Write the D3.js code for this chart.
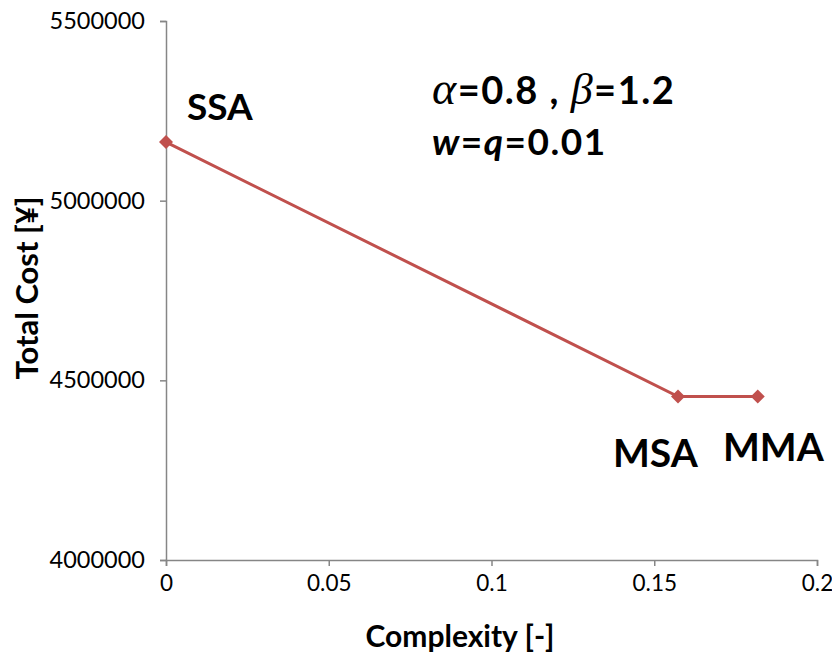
<!DOCTYPE html>
<html><head><meta charset="utf-8">
<script src="https://cdn.jsdelivr.net/npm/d3@7"></script>
<style>body{margin:0;background:#fff}</style>
</head><body>
<svg id="c" width="832" height="661"></svg>
<script>
const names = ["SSA", "MSA", "MMA"];
const complexity = [0, 0.1573, 0.1818];
const totalCost = [5163000, 4455000, 4455000];
const xTicks = [0, 0.05, 0.1, 0.15, 0.2];
const yTicks = [4000000, 4500000, 5000000, 5500000];

const svg = d3.select("#c");
const font = "Lato, 'Open Sans', sans-serif";
const x = d3.scaleLinear().domain([0, 0.2]).range([166, 817]);
const y = d3.scaleLinear().domain([4000000, 5500000]).range([560, 21]);
const axisColor = "#868686";

const xa = svg.append("g").attr("transform", "translate(0,560)")
  .call(d3.axisBottom(x).tickValues(xTicks).tickFormat(d => String(d)).tickSize(6).tickPadding(9));
const ya = svg.append("g").attr("transform", "translate(166,0)")
  .call(d3.axisLeft(y).tickValues(yTicks).tickFormat(d => String(d)).tickSize(6).tickPadding(15));
[xa, ya].forEach(a => {
  a.selectAll("path,line").attr("stroke", axisColor).attr("stroke-width", 1.5);
  a.selectAll("text").attr("font-family", font).attr("fill", "#000");
});
xa.selectAll("text").attr("font-size", 22.5);
ya.selectAll("text").attr("font-size", 23.5);

const line = d3.line().x((d, i) => x(complexity[i])).y((d, i) => y(totalCost[i]));
svg.append("path").datum(totalCost).attr("d", line)
  .attr("fill", "none").attr("stroke", "#C0504D").attr("stroke-width", 3);
svg.selectAll(".m").data(totalCost).enter().append("path")
  .attr("d", d3.symbol().type(d3.symbolDiamond2).size(125))
  .attr("transform", (d, i) => `translate(${x(complexity[i])},${y(d)})`)
  .attr("fill", "#C0504D");

// point labels
const labelPos = [[187, 120, "start", 37], [613, 467, "start", 39], [723, 461, "start", 39]];
names.forEach((n, i) => {
  svg.append("text").attr("x", labelPos[i][0]).attr("y", labelPos[i][1])
    .attr("text-anchor", labelPos[i][2])
    .attr("font-family", font).attr("font-weight", "bold").attr("font-size", labelPos[i][3]).text(n);
});

// annotation
const t1 = svg.append("text").attr("x", 432).attr("y", 104)
  .attr("font-family", font).attr("font-weight", "bold").attr("font-size", 38).attr("letter-spacing", 1.5);
t1.append("tspan").attr("font-family", "'Liberation Serif', serif").attr("font-style", "italic").attr("font-weight", "normal").attr("font-size", 46).text("α");
t1.append("tspan").text("=0.8 , ");
t1.append("tspan").attr("font-family", "'Liberation Serif', serif").attr("font-style", "italic").attr("font-weight", "normal").attr("font-size", 44).text("β");
t1.append("tspan").text("=1.2");
const t2 = svg.append("text").attr("x", 432).attr("y", 155)
  .attr("font-family", font).attr("font-weight", "bold").attr("font-size", 37).attr("letter-spacing", 1.5);
t2.append("tspan").attr("font-style", "italic").text("w");
t2.append("tspan").text("=");
t2.append("tspan").attr("font-style", "italic").text("q");
t2.append("tspan").text("=0.01");

// axis titles
svg.append("text").attr("x", 460).attr("y", 647).attr("text-anchor", "middle")
  .attr("font-family", font).attr("font-weight", "bold").attr("font-size", 30).text("Complexity [-]");
svg.append("text").attr("transform", "translate(38,288) rotate(-90)").attr("text-anchor", "middle")
  .attr("font-family", font).attr("font-weight", "bold").attr("font-size", 31).text("Total Cost [¥]");
</script>
</body></html>
